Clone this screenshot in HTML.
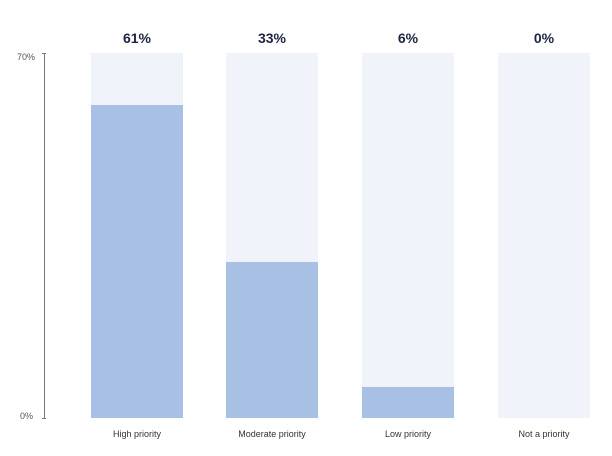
<!DOCTYPE html>
<html><head><meta charset="utf-8"><style>
body{margin:0;width:612px;height:456px;background:#fff;font-family:"Liberation Sans",sans-serif;position:relative;overflow:hidden}
.bg{position:absolute;top:53px;height:365px;width:92px;background:#f0f3f9}
.bar{position:absolute;bottom:0;left:0;width:100%;background:#a7c0e4}
.val{position:absolute;top:30px;width:92px;text-align:center;font-weight:bold;font-size:14px;color:#1d2545}
.lab{position:absolute;top:429px;width:140px;text-align:center;font-size:9px;color:#333}
.ax{position:absolute;font-size:9px;color:#555}
</style></head><body>
<div style="position:absolute;left:44px;top:53px;width:1px;height:365px;background:#777"></div>
<div style="position:absolute;left:42px;top:53px;width:4px;height:1px;background:#777"></div>
<div style="position:absolute;left:42px;top:418px;width:4px;height:1px;background:#777"></div>
<div class="ax" style="left:17px;top:52px">70%</div>
<div class="ax" style="left:20px;top:411px">0%</div>

<div class="bg" style="left:91px"><div class="bar" style="height:313px"></div></div>
<div class="bg" style="left:226px"><div class="bar" style="height:156px"></div></div>
<div class="bg" style="left:362px"><div class="bar" style="height:31px"></div></div>
<div class="bg" style="left:498px"></div>

<div class="val" style="left:91px">61%</div>
<div class="val" style="left:226px">33%</div>
<div class="val" style="left:362px">6%</div>
<div class="val" style="left:498px">0%</div>

<div class="lab" style="left:67px">High priority</div>
<div class="lab" style="left:202px">Moderate priority</div>
<div class="lab" style="left:338px">Low priority</div>
<div class="lab" style="left:474px">Not a priority</div>
</body></html>
